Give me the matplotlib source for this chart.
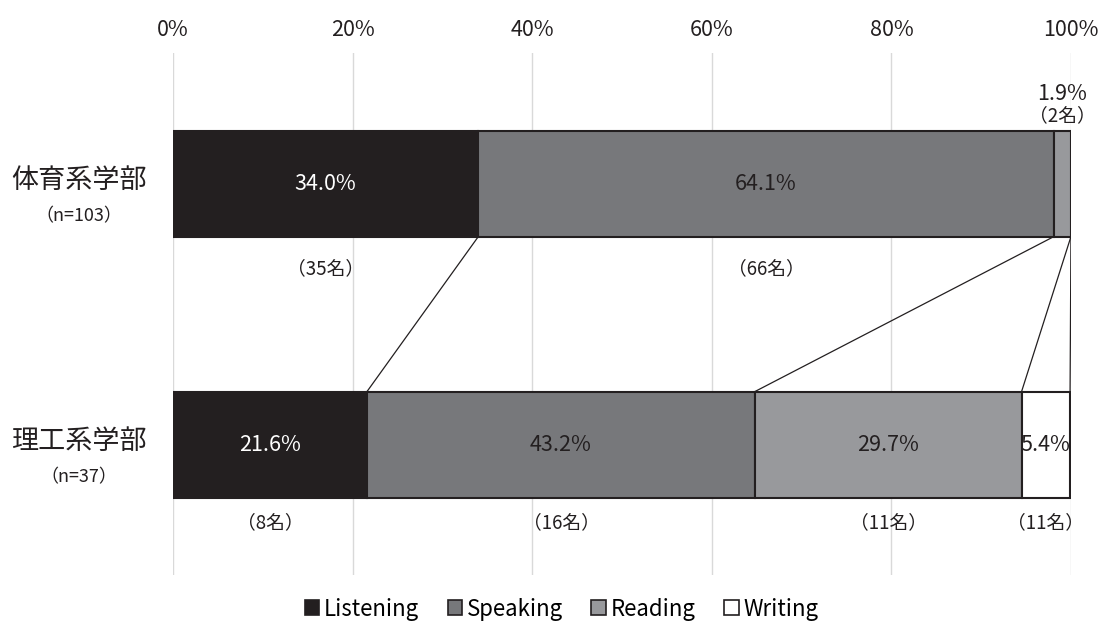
import numpy as np
import matplotlib.pyplot as plt
from matplotlib.patches import Patch

plt.rcParams['font.family'] = ['Noto Sans CJK JP', 'DejaVu Sans']

groups = ['体育系学部', '理工系学部']
group_n = ['（n=103）', '（n=37）']
skills = ['Listening', 'Speaking', 'Reading', 'Writing']
pct_sports = [34.0, 64.1, 1.9, 0.0]
pct_science = [21.6, 43.2, 29.7, 5.4]
cnt_sports = ['（35名）', '（66名）', '（2名）', '']
cnt_science = ['（8名）', '（16名）', '（11名）', '（11名）']
colors = ['#231f20', '#77787b', '#98999c', '#ffffff']
value_colors = ['white', '#231f20', '#231f20', '#231f20']

edge = '#231f20'
height = 0.406
ypos = [1, 0]  # sports on top, science below
below = [0.325, 0.30]

fig = plt.figure(figsize=(11.05, 6.25), dpi=100)
ax = fig.add_axes([0.1566, 0.08, 0.8126, 0.835])

data = [pct_sports, pct_science]
counts = [cnt_sports, cnt_science]
for row, (vals, cnts) in enumerate(zip(data, counts)):
    y = ypos[row]
    left = 0
    for i, v in enumerate(vals):
        if v > 0:
            ax.barh(y, v, left=left, height=height, color=colors[i],
                    edgecolor=edge, linewidth=1.5, zorder=3)
            cx = left + v / 2
            if v >= 5:
                ax.text(cx, y, f'{v:.1f}%', ha='center', va='center',
                        fontsize=15.5, color=value_colors[i], zorder=4)
                ax.text(cx, y - below[row], cnts[i], ha='center',
                        va='center', fontsize=13.5, color='#231f20')
            else:
                # small slice: labels above the bar
                ax.text(cx, y + 0.345, f'{v:.1f}%', ha='center',
                        va='center', fontsize=15.5, color='#231f20')
                ax.text(cx, y + 0.262, cnts[i], ha='center',
                        va='center', fontsize=13.5, color='#231f20')
        left += v

# connector lines between cumulative boundaries
cum_top = np.minimum(np.cumsum(pct_sports), 100)
cum_bot = np.minimum(np.cumsum(pct_science), 100)
for a, b in zip(cum_top, cum_bot):
    ax.plot([a, b], [ypos[0] - height / 2, ypos[1] + height / 2],
            color=edge, linewidth=0.9, zorder=2)

ax.set_xlim(0, 100)
ax.set_ylim(-0.5, 1.5)
ax.set_xticks(np.arange(0, 101, 20))
ax.set_xticklabels([f'{t}%' for t in range(0, 101, 20)], fontsize=15.5,
                   color='#231f20')
ax.xaxis.tick_top()
ax.tick_params(axis='x', length=0, pad=9)
ax.grid(axis='x', color='#d9d9d9', linewidth=1, zorder=0)
ax.set_yticks([])
for s in ax.spines.values():
    s.set_visible(False)

# row labels
for y, g, n in zip(ypos, groups, group_n):
    ax.text(-2.9, y + 0.01, g, ha='right', va='center', fontsize=19.5,
            color='#231f20', clip_on=False)
    ax.text(-10.5, y - 0.125, n, ha='center', va='center', fontsize=13,
            color='#231f20', clip_on=False)

handles = [Patch(facecolor=c, edgecolor=edge, linewidth=1.2) for c in colors]
fig.legend(handles, skills, loc='lower center', bbox_to_anchor=(0.508, -0.025),
           ncol=4, frameon=False, fontsize=16, handlelength=0.65,
           handleheight=0.65, handletextpad=0.2, columnspacing=1.3)

fig.savefig('out.png', dpi=100, facecolor='white')
